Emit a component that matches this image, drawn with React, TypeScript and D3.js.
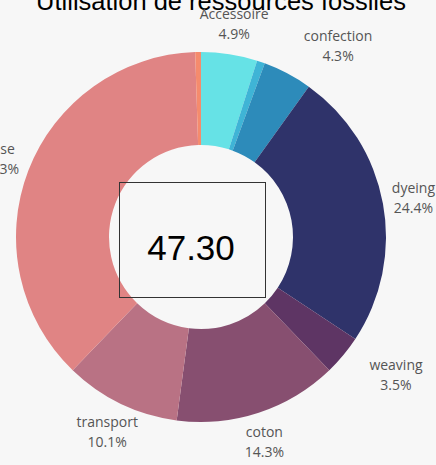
import React from "react";
import * as d3 from "d3";

const title = "Utilisation de ressources fossiles";
const centerValue = "47.30";
const categories = ["Accessoire", "", "confection", "dyeing", "weaving", "coton", "transport", "base", ""];
const values = [4.9, 0.7, 4.3, 24.4, 3.5, 14.3, 10.1, 37.3, 0.5];
const colors = ["#66e2e6", "#3fb4d6", "#2d8bba", "#2f336a", "#5e3564", "#874f70", "#b97284", "#e08484", "#f58b6d"];
const showLabel = [true, false, true, true, true, true, true, true, false];

// layout: horizontal shift applied to labels pushed aside to avoid overlap
const labelShift: Record<string, number> = { confection: 36, weaving: 29, coton: -4 };

const W = 436;
const H = 465;
const cx = 201;
const cy = 237;
const R = 185;
const r = 92;
const LR = 216;

export default function App() {
  const data = values.map((v, i) => ({ v, i }));
  const pie = d3.pie<{ v: number; i: number }>().sort(null).value((d) => d.v);
  const arcs = pie(data);
  const arc = d3.arc<d3.PieArcDatum<{ v: number; i: number }>>().innerRadius(r).outerRadius(R);
  const total = d3.sum(values);

  return (
    <div style={{ position: "fixed", left: 0, top: 0, width: W, height: H, background: "#f7f7f7" }}>
      <svg width={W} height={H} style={{ display: "block" }}>
        <rect width={W} height={H} fill="#f7f7f7" />
        <text x={221} y={10} textAnchor="middle" fontFamily="Liberation Sans, Arial, sans-serif" fontSize={25.5} fill="#000">
          {title}
        </text>
        <g transform={`translate(${cx},${cy})`}>
          {arcs.map((a, k) => (
            <path key={k} d={arc(a) || ""} fill={colors[a.data.i]} />
          ))}
          {arcs.map((a, k) => {
            if (!showLabel[a.data.i]) return null;
            const mid = (a.startAngle + a.endAngle) / 2;
            const sx = Math.sin(mid);
            const sy = -Math.cos(mid);
            const name = categories[a.data.i];
            const pct = ((a.data.v / total) * 100).toFixed(1) + "%";
            const lx = sx * LR + (labelShift[name] || 0);
            const ly = sy * LR;
            return (
              <g key={"l" + k} fontFamily="Open Sans, sans-serif" fontSize={14} fill="#555" textAnchor="middle">
                <text x={lx} y={ly - 5}>{name}</text>
                <text x={lx} y={ly + 15}>{pct}</text>
              </g>
            );
          })}
        </g>
        <rect x={119.5} y={182.5} width={146} height={115} fill="none" stroke="#333" strokeWidth={1} />
        <text x={191} y={260} textAnchor="middle" fontFamily="Liberation Sans, Arial, sans-serif" fontSize={35} fill="#000">
          {centerValue}
        </text>
      </svg>
    </div>
  );
}
